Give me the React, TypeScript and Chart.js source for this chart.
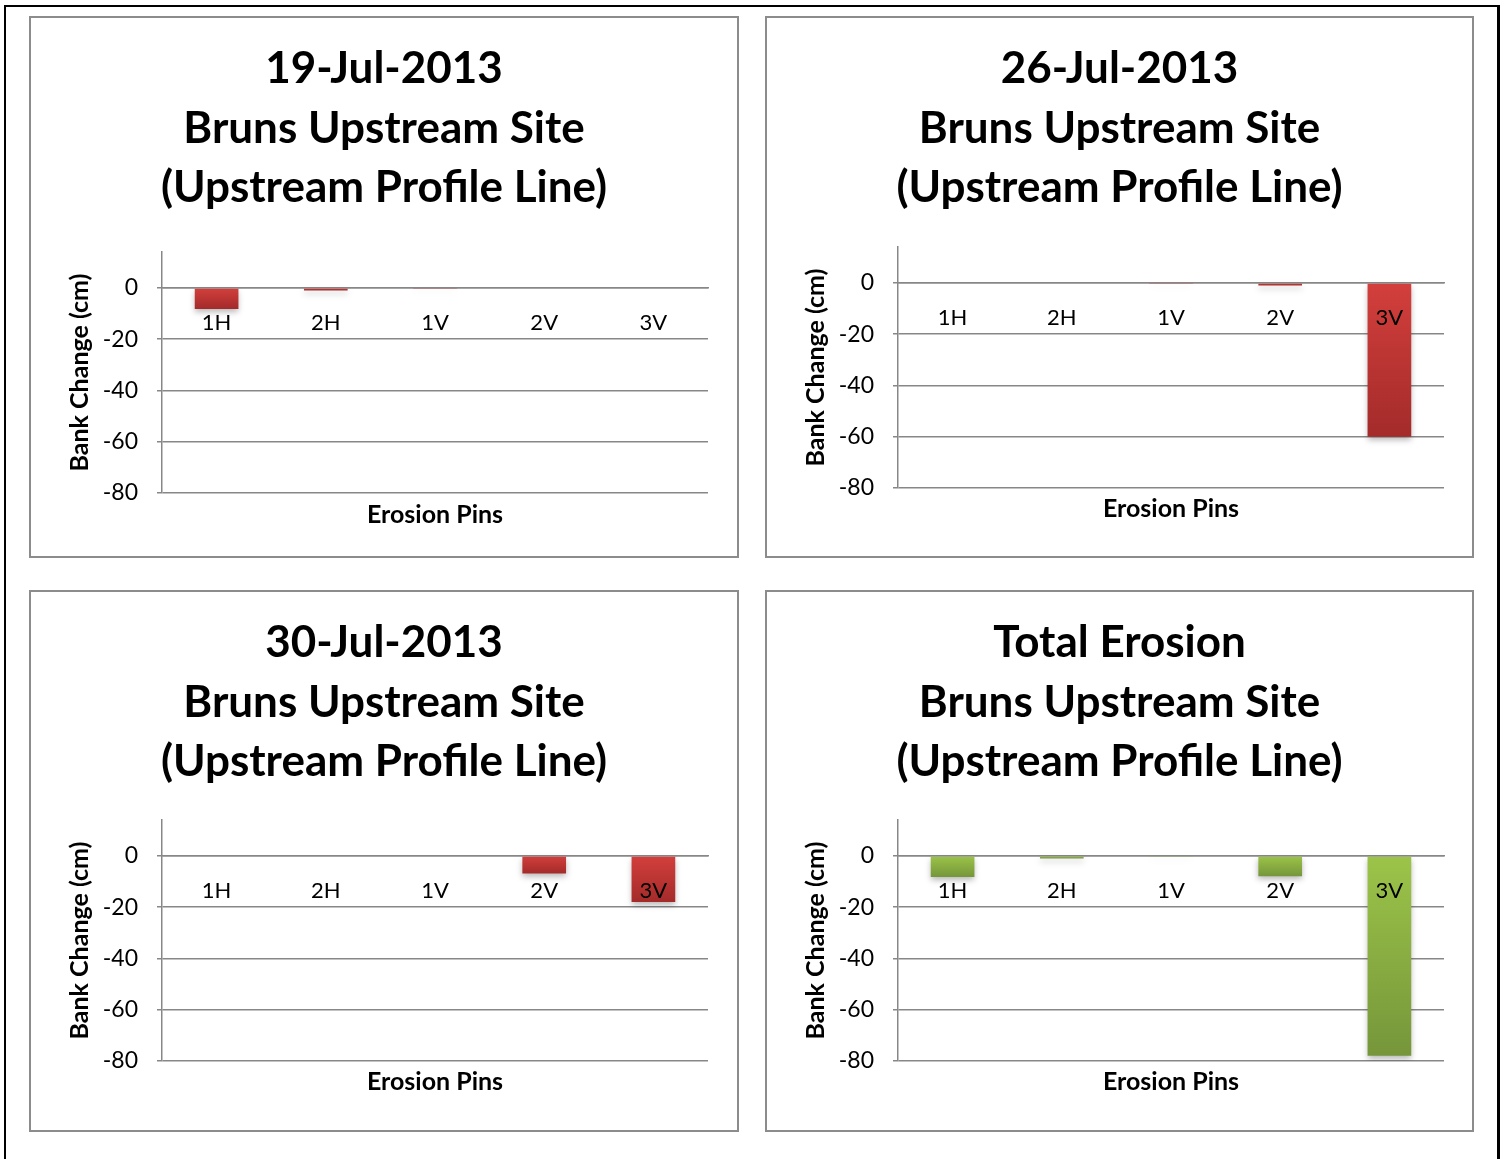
import React, { useEffect, useRef } from 'react';
import { Chart, registerables } from 'chart.js';

Chart.register(...registerables);

// ---------- data ----------
const pins = ['1H', '2H', '1V', '2V', '3V'];
const yTicks = [-80, -60, -40, -20, 0];
const yAxisTitle = 'Bank Change (cm)';
const xAxisTitle = 'Erosion Pins';

const title19Jul = ['19-Jul-2013', 'Bruns Upstream Site', '(Upstream Profile Line)'];
const title26Jul = ['26-Jul-2013', 'Bruns Upstream Site', '(Upstream Profile Line)'];
const title30Jul = ['30-Jul-2013', 'Bruns Upstream Site', '(Upstream Profile Line)'];
const titleTotal = ['Total Erosion', 'Bruns Upstream Site', '(Upstream Profile Line)'];

const bank19Jul = [-8.2, -1, -0.2, 0, 0];
const bank26Jul = [0, 0, -0.2, -1, -60];
const bank30Jul = [0, 0, 0, -6.9, -18];
const bankTotal = [-8.2, -1, -0.4, -7.9, -78];

// ---------- styling ----------
const FONT = 'Lato, "Open Sans", sans-serif';
const GRID = '#878787';
const RED = { light: '#d33f3c', dark: '#a32b2a', solid: '#c23634' };
const GREEN = { light: '#9cc449', dark: '#76963a', solid: '#8db543' };

const shadowPlugin = {
  id: 'barShadow',
  beforeDatasetsDraw(chart: any) {
    const c = chart.ctx;
    c.save();
    c.shadowColor = 'rgba(0,0,0,0.28)';
    c.shadowBlur = 6;
    c.shadowOffsetX = 0;
    c.shadowOffsetY = 3;
  },
  afterDatasetsDraw(chart: any) {
    chart.ctx.restore();
  },
};

type Layout = {
  areaTop: number;
  areaBottom: number;
  titleFirst: number;
  xTitleCenter: number;
  sidePad: number;
};

function Panel(props: {
  left: number;
  top: number;
  width: number;
  height: number;
  title: string[];
  values: number[];
  colors: { light: string; dark: string; solid: string };
  layout: Layout;
}) {
  const ref = useRef<HTMLCanvasElement>(null);
  const innerW = props.width - 4;
  const innerH = props.height - 4;

  useEffect(() => {
    if (!ref.current) return;
    const L = props.layout;
    const titleLH = 59.5;
    const titlePadTop = L.titleFirst - titleLH / 2;
    const titlePadBottom = L.areaTop - titlePadTop - 3 * titleLH;
    const xTitleLH = 25 * 1.2;
    const xbHeight = innerH - L.areaBottom;
    const xTitlePadBottom = innerH - L.xTitleCenter - xTitleLH / 2;
    const yAxisWidth = 131 - L.sidePad;
    const yTitleCenter = 49 - L.sidePad;
    const col = props.colors;

    const chart = new Chart(ref.current, {
      type: 'bar',
      data: {
        labels: pins,
        datasets: [
          {
            data: props.values,
            xAxisID: 'x',
            yAxisID: 'y',
            barPercentage: 0.4,
            categoryPercentage: 1,
            borderWidth: 0,
            backgroundColor: (ctx: any) => {
              const ch = ctx.chart;
              if (!ch.chartArea || !ch.scales.y) return col.solid;
              const v = ctx.raw as number;
              const y0 = ch.scales.y.getPixelForValue(0);
              const y1 = ch.scales.y.getPixelForValue(v);
              if (Math.abs(y1 - y0) < 2) return col.solid;
              const g = ch.ctx.createLinearGradient(0, y0, 0, y1);
              g.addColorStop(0, col.light);
              g.addColorStop(1, col.dark);
              return g;
            },
          },
        ],
      },
      options: {
        animation: false,
        responsive: true,
        maintainAspectRatio: false,
        layout: { padding: { left: L.sidePad, right: L.sidePad, top: 0, bottom: 0 } },
        plugins: {
          legend: { display: false },
          tooltip: { enabled: false },
          title: {
            display: true,
            text: props.title,
            color: '#000',
            font: { family: FONT, size: 44, weight: 'bold', lineHeight: titleLH + 'px' },
            padding: { top: titlePadTop, bottom: titlePadBottom },
          },
        },
        scales: {
          x: {
            type: 'category',
            position: { y: 0 } as any,
            offset: true,
            grid: { display: false, drawTicks: false },
            border: { display: true, color: GRID, width: 1.5 },
            ticks: {
              z: 1,
              color: '#000',
              font: { family: FONT, size: 22 },
              padding: 21.8,
              maxRotation: 0,
              autoSkip: false,
            },
          },
          xb: {
            type: 'category',
            position: 'bottom',
            labels: pins,
            offset: true,
            grid: { display: false, drawTicks: false },
            border: { display: false },
            ticks: { display: false },
            title: {
              display: true,
              text: xAxisTitle,
              color: '#000',
              font: { family: FONT, size: 25, weight: 'bold' },
              padding: { top: 0, bottom: xTitlePadBottom },
            },
            afterFit: (s: any) => {
              s.height = xbHeight;
            },
          },
          y: {
            type: 'linear',
            position: 'left',
            min: -80,
            max: 14,
            afterBuildTicks: (s: any) => {
              s.ticks = yTicks.map((v) => ({ value: v }));
            },
            grid: { color: GRID, lineWidth: 1.5, drawTicks: true, tickLength: 5 },
            border: { display: true, color: GRID, width: 1.5 },
            ticks: {
              color: '#000',
              font: { family: FONT, size: 23 },
              padding: 19,
              callback: (v: any) => String(v),
            },
            title: {
              display: true,
              text: yAxisTitle,
              color: '#000',
              font: { family: FONT, size: 25, weight: 'bold' },
              padding: { top: yTitleCenter - 15, bottom: 0 },
            },
            afterFit: (s: any) => {
              s.width = yAxisWidth;
            },
          },
        },
      } as any,
      plugins: [shadowPlugin],
    });
    return () => chart.destroy();
  }, []);

  return (
    <div
      style={{
        position: 'absolute',
        left: props.left,
        top: props.top,
        width: props.width,
        height: props.height,
        border: '2px solid #8c8c8c',
        boxSizing: 'border-box',
        background: '#fff',
      }}
    >
      <div style={{ position: 'relative', width: innerW, height: innerH }}>
        <canvas ref={ref} style={{ display: 'block' }} />
      </div>
    </div>
  );
}

export default function App() {
  const top1: Layout = { areaTop: 234, areaBottom: 475, titleFirst: 51, xTitleCenter: 497, sidePad: 29 };
  const top2: Layout = { areaTop: 229, areaBottom: 470, titleFirst: 51, xTitleCenter: 491, sidePad: 28 };
  const bot: Layout = { areaTop: 228, areaBottom: 469, titleFirst: 51, xTitleCenter: 490, sidePad: 29 };
  const bot2: Layout = { areaTop: 228, areaBottom: 469, titleFirst: 51, xTitleCenter: 490, sidePad: 28 };
  return (
    <div
      style={{
        position: 'absolute',
        left: 0,
        top: 0,
        width: 1507,
        height: 1159,
        overflow: 'hidden',
        background: '#fff',
      }}
    >
      <div
        style={{
          position: 'absolute',
          left: 4,
          top: 5,
          width: 1496,
          height: 1220,
          borderLeft: '2px solid #000',
          borderTop: '2px solid #000',
          borderRight: '3px solid #000',
          boxSizing: 'border-box',
        }}
      />
      <Panel left={29} top={16} width={710} height={542} title={title19Jul} values={bank19Jul} colors={RED} layout={top1} />
      <Panel left={765} top={16} width={709} height={542} title={title26Jul} values={bank26Jul} colors={RED} layout={top2} />
      <Panel left={29} top={590} width={710} height={542} title={title30Jul} values={bank30Jul} colors={RED} layout={bot} />
      <Panel left={765} top={590} width={709} height={542} title={titleTotal} values={bankTotal} colors={GREEN} layout={bot2} />
    </div>
  );
}
